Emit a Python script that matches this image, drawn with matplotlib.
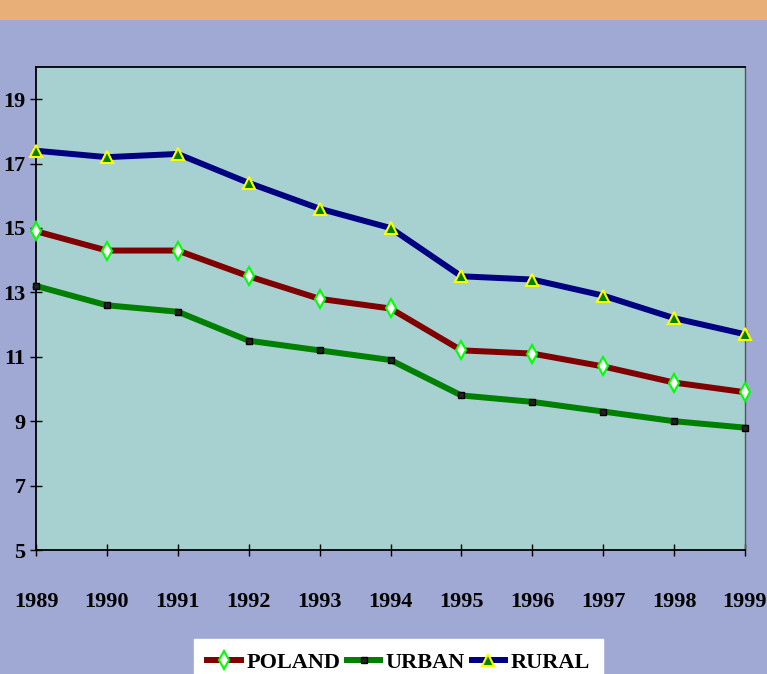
import matplotlib.pyplot as plt
from matplotlib.patches import Rectangle

# data
years = [1989, 1990, 1991, 1992, 1993, 1994, 1995, 1996, 1997, 1998, 1999]
poland = [14.9, 14.3, 14.3, 13.5, 12.8, 12.5, 11.2, 11.1, 10.7, 10.2, 9.9]
urban = [13.2, 12.6, 12.4, 11.5, 11.2, 10.9, 9.8, 9.6, 9.3, 9.0, 8.8]
rural = [17.4, 17.2, 17.3, 16.4, 15.6, 15.0, 13.5, 13.4, 12.9, 12.2, 11.7]
y_ticks = [5, 7, 9, 11, 13, 15, 17, 19]

plt.rcParams['font.family'] = ['Liberation Serif', 'DejaVu Serif']
plt.rcParams['font.weight'] = 'bold'

fig = plt.figure(figsize=(7.67, 6.74), dpi=100)
fig.patch.set_facecolor('#a0a8d4')
# orange band on top
fig.patches.append(Rectangle((0, 1 - 20 / 674), 1, 20 / 674, transform=fig.transFigure,
                             facecolor='#e8b078', edgecolor='none', zorder=0))

ax = fig.add_axes([36 / 767, 124 / 674, 709 / 767, 483 / 674])
ax.set_facecolor('#a6d1d0')

ax.plot(years, poland, color='#800000', lw=4.3, marker='d', ms=9,
        mfc='white', mec='#00ff00', mew=1.5, label='POLAND', clip_on=False, zorder=3)
ax.plot(years, urban, color='#008000', lw=4.3, marker='s', ms=5,
        mfc='#222222', mec='black', mew=1, label='URBAN', clip_on=False, zorder=3)
ax.plot(years, rural, color='#000080', lw=4.3, marker='^', ms=9,
        mfc='#008000', mec='#ffff00', mew=1.5, label='RURAL', clip_on=False, zorder=3)

ax.set_xlim(1989, 1999)
ax.set_ylim(5, 20)
ax.set_xticks(years)
ax.set_yticks(y_ticks)
ax.tick_params(axis='both', direction='inout', length=9, width=1, labelsize=16)
ax.tick_params(axis='x', pad=26)
ax.tick_params(axis='y', pad=3)

for s in ['left', 'bottom', 'top']:
    ax.spines[s].set_color('black')
    ax.spines[s].set_linewidth(1.3)
ax.spines['right'].set_color('#555555')
ax.spines['right'].set_linewidth(1)

# legend box sits at the bottom edge and is partly cut off, like the original
leg = fig.legend(loc='upper left', bbox_to_anchor=(194 / 767, 35 / 674), ncol=3,
                 frameon=True, fancybox=False, fontsize=16, handlelength=1.5,
                 handletextpad=0.25, columnspacing=0.3, borderpad=0.6, borderaxespad=0)
leg.get_frame().set_facecolor('white')
leg.get_frame().set_edgecolor('white')
leg.get_frame().set_alpha(1)

fig.savefig('out.png', dpi=100, facecolor=fig.get_facecolor())
